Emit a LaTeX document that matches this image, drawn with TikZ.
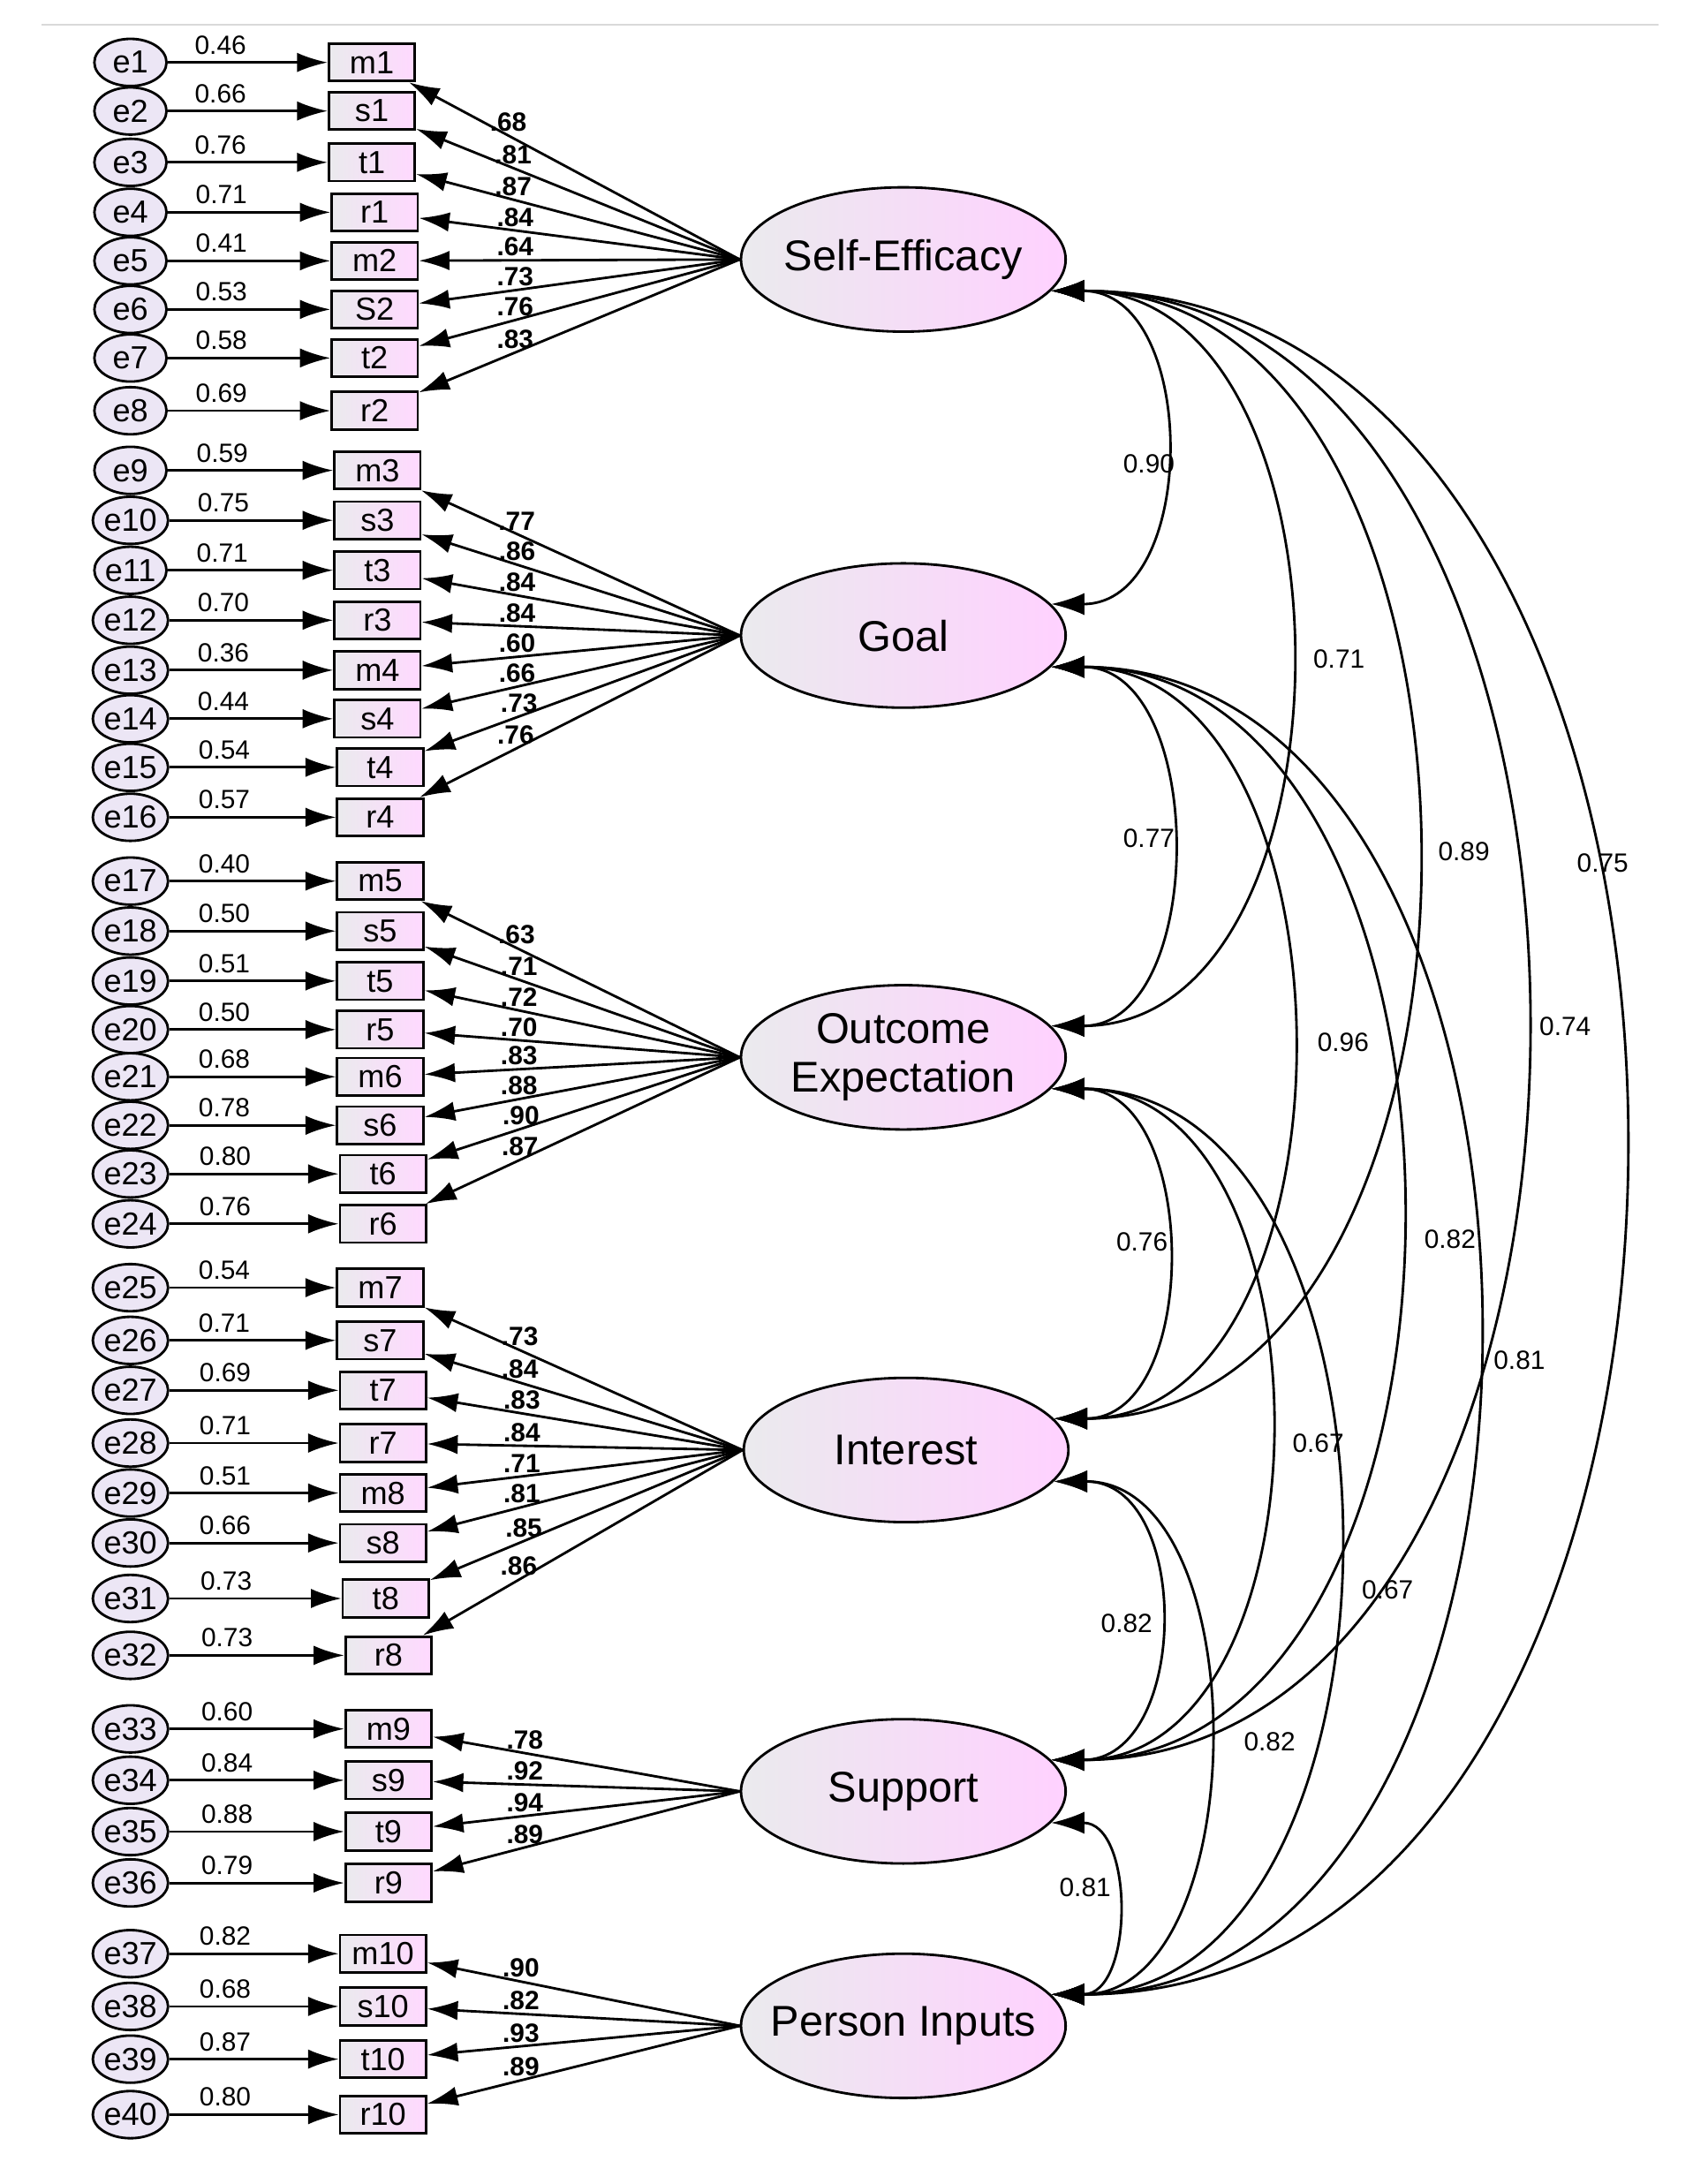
\documentclass[tikz,border=0pt]{standalone}
\usepackage{fontspec}
\setmainfont{Liberation Sans}
\usetikzlibrary{shapes.geometric, arrows.meta}

\begin{document}
\begin{tikzpicture}[x=1pt, y=-1pt,
        latent/.style={ellipse, draw=black, line width=1.8pt, left color=blue!8!gray!15, right color=magenta!18, minimum width=234pt, minimum height=104pt, inner xsep=-14pt, inner ysep=0pt, align=center, font=\fontsize{31}{35}\selectfont},
        item/.style={rectangle, draw=black, line width=1.8pt, left color=blue!8!gray!15, right color=magenta!15, minimum width=62pt, minimum height=27pt, inner sep=1pt, font=\fontsize{23}{24}\selectfont},
        err/.style={ellipse, draw=black, line width=1.8pt, fill=magenta!12!blue!8, minimum width=52pt, minimum height=34pt, inner sep=0pt, font=\fontsize{23}{24}\selectfont},
        arrow/.style={-{Latex[length=22pt, width=14pt]}, line width=1.8pt},
        cov/.style={{Latex[length=24pt, width=16pt]}-{Latex[length=24pt, width=16pt]}, line width=1.8pt},
        small/.style={font=\fontsize{19}{21}\selectfont, inner sep=1pt},
        load/.style={font=\bfseries\fontsize{19}{21}\selectfont, inner sep=1pt}
        ]
        \useasboundingbox (0,0) rectangle (1220,1574);
        \draw[gray!30, line width=1pt] (30,18) -- (1195,18);

        % latent factors
        \node[latent] (SE) at (651,187) {Self-Efficacy};
        \node[latent] (G) at (651,458) {Goal};
        \node[latent] (OE) at (651,762) {Outcome\\Expectation};
        \node[latent] (I) at (653,1045) {Interest};
        \node[latent] (S) at (651,1291) {Support};
        \node[latent] (PI) at (651,1460) {Person Inputs};

        % indicators
        \foreach \i/\lab/\yy/\bx/\w/\ld/\lat in {
            1/m1/45/268/0.46/.68/SE, 2/s1/80/268/0.66/.81/SE, 3/t1/117/268/0.76/.87/SE, 4/r1/153/270/0.71/.84/SE,
            5/m2/188/270/0.41/.64/SE, 6/S2/223/270/0.53/.73/SE, 7/t2/258/270/0.58/.76/SE, 8/r2/296/270/0.69/.83/SE,
            9/m3/339/272/0.59/.77/G, 10/s3/375/272/0.75/.86/G, 11/t3/411/272/0.71/.84/G, 12/r3/447/272/0.70/.84/G,
            13/m4/483/272/0.36/.60/G, 14/s4/518/272/0.44/.66/G, 15/t4/553/274/0.54/.73/G, 16/r4/589/274/0.57/.76/G,
            17/m5/635/274/0.40/.63/OE, 18/s5/671/274/0.50/.71/OE, 19/t5/707/274/0.51/.72/OE, 20/r5/742/274/0.50/.70/OE,
            21/m6/776/274/0.68/.83/OE, 22/s6/811/274/0.78/.88/OE, 23/t6/846/276/0.80/.90/OE, 24/r6/882/276/0.76/.87/OE,
            25/m7/928/274/0.54/.73/I, 26/s7/966/274/0.71/.84/I, 27/t7/1002/276/0.69/.83/I, 28/r7/1040/276/0.71/.84/I,
            29/m8/1076/276/0.51/.71/I, 30/s8/1112/276/0.66/.81/I, 31/t8/1152/278/0.73/.85/I, 32/r8/1193/280/0.73/.86/I,
            33/m9/1246/280/0.60/.78/S, 34/s9/1283/280/0.84/.92/S, 35/t9/1320/280/0.88/.94/S, 36/r9/1357/280/0.79/.89/S,
            37/m10/1408/276/0.82/.90/PI, 38/s10/1446/276/0.68/.82/PI, 39/t10/1484/276/0.87/.93/PI, 40/r10/1524/276/0.80/.89/PI}
        {
            \node[item] (b\i) at (\bx,\yy) {\lab};
            \node[err] (e\i) at (94,\yy) {e\i};
            \draw[arrow] (e\i) -- node[small, pos=0.33, above=4pt] {\w} (b\i);
            \draw[arrow] (\lat.west) -- node[load, pos=0.7, above=1pt] {\ld} (b\i);
        }

        % covariances
        \foreach \a/\b/\d/\val/\lx/\ly in {
            SE/G/107/0.90/828/334, SE/OE/227/0.71/965/475, SE/I/347/0.89/1055/614, SE/S/453/0.74/1128/740, SE/PI/547/0.75/1155/622,
            G/OE/113/0.77/828/604, G/I/227/0.96/968/751, G/S/333/0.82/1045/893, G/PI/407/0.81/1095/980,
            OE/I/107/0.76/823/895, OE/S/207/0.67/950/1040, OE/PI/273/0.67/1000/1146,
            I/S/100/0.82/812/1170, I/PI/147/0.82/915/1255, S/PI/60/0.81/782/1360}
        {
            \draw[cov] (\a.-12) .. controls +(\d,0) and +(\d,0) .. (\b.12);
            \node[small] at (\lx,\ly) {\val};
        }
    \end{tikzpicture}
\end{document}
